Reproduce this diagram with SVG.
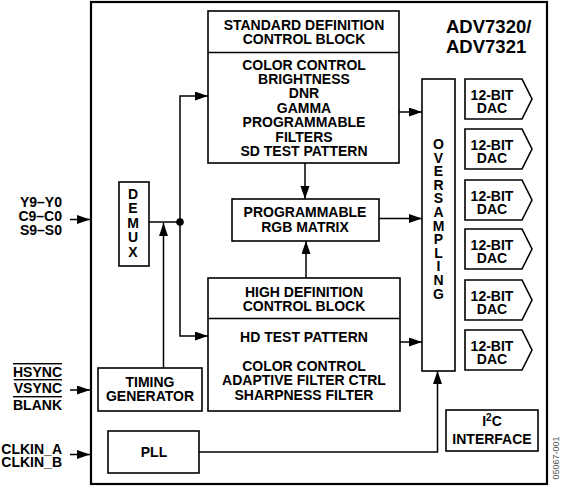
<svg xmlns="http://www.w3.org/2000/svg" width="561" height="486" viewBox="0 0 561 486">
<defs>
<style>
text{font-family:"Liberation Sans",Arial,sans-serif;font-weight:bold;font-size:14px;fill:#000;text-anchor:middle}
.box{fill:#fff;stroke:#000;stroke-width:1.6}
.ln{fill:none;stroke:#000;stroke-width:1.5}
.lbl{text-anchor:end}
.ol{text-decoration:overline}
.big{font-size:18.5px;text-anchor:start}
.id{font-weight:normal;font-size:9px;fill:#555}
</style>
<marker id="ah" markerUnits="userSpaceOnUse" markerWidth="14" markerHeight="10" refX="13" refY="4.5" orient="auto">
<path d="M0,0 L13,4.5 L0,9 Z" fill="#000"/>
</marker>
</defs>
<rect x="0" y="0" width="561" height="486" fill="#fff"/>
<rect id="chip" x="91" y="2" width="456" height="482" fill="none" stroke="#000" stroke-width="2.2"/>
<g id="title"><text class="big" x="446" y="33">ADV7320/</text><text class="big" x="446" y="53">ADV7321</text></g>

<g id="inputs-data"><text class="lbl" x="62" y="207">Y9–Y0</text><text class="lbl" x="62" y="221">C9–C0</text><text class="lbl" x="62" y="235">S9–S0</text></g>
<g id="inputs-sync"><text class="lbl ol" x="62" y="377">HSYNC</text><text class="lbl ol" x="62" y="393">VSYNC</text><text class="lbl ol" x="62" y="410">BLANK</text></g>
<g id="inputs-clk"><text class="lbl" x="62" y="454">CLKIN_A</text><text class="lbl" x="62" y="467">CLKIN_B</text></g>

<g id="demux"><rect class="box" x="119" y="182" width="30" height="84"/>
<text x="133" y="199">D</text><text x="133" y="213">E</text><text x="133" y="228">M</text><text x="133" y="242">U</text><text x="133" y="257">X</text></g>

<g id="timing"><rect class="box" x="98" y="368" width="104" height="43"/>
<text x="150" y="387">TIMING</text><text x="150" y="401">GENERATOR</text></g>

<g id="pll"><rect class="box" x="108" y="431" width="91" height="42"/><text x="154" y="457">PLL</text></g>

<g id="sd"><rect class="box" x="208" y="11" width="191" height="152"/><line class="ln" x1="208" y1="52.5" x2="399" y2="52.5"/>
<text x="304" y="30">STANDARD DEFINITION</text><text x="304" y="44">CONTROL BLOCK</text>
<text x="304" y="70">COLOR CONTROL</text><text x="304" y="84">BRIGHTNESS</text><text x="304" y="98">DNR</text><text x="304" y="112.5">GAMMA</text><text x="304" y="127">PROGRAMMABLE</text><text x="304" y="141.5">FILTERS</text><text x="304" y="156">SD TEST PATTERN</text></g>

<g id="rgb"><rect class="box" x="232" y="199" width="147" height="42"/>
<text x="305" y="217">PROGRAMMABLE</text><text x="305" y="232">RGB MATRIX</text></g>

<g id="hd"><rect class="box" x="208" y="278" width="192" height="133"/><line class="ln" x1="208" y1="318.5" x2="400" y2="318.5"/>
<text x="304" y="297">HIGH DEFINITION</text><text x="304" y="311">CONTROL BLOCK</text>
<text x="304" y="342">HD TEST PATTERN</text>
<text x="304" y="371">COLOR CONTROL</text><text x="304" y="385">ADAPTIVE FILTER CTRL</text><text x="304" y="399.5">SHARPNESS FILTER</text></g>

<g id="oversampling"><rect class="box" x="422" y="79" width="33" height="292"/>
<text x="438.5" y="149">O</text><text x="438.5" y="162.5">V</text><text x="438.5" y="176">E</text><text x="438.5" y="189.5">R</text><text x="438.5" y="203">S</text><text x="438.5" y="217">A</text><text x="438.5" y="230.5">M</text><text x="438.5" y="244">P</text><text x="438.5" y="257.5">L</text><text x="438.5" y="271">I</text><text x="438.5" y="285">N</text><text x="438.5" y="298.5">G</text></g>

<g id="dac1"><path class="box" d="M465,79 H522 L532,99 L522,119 H465 Z"/><text x="492" y="100">12-BIT</text><text x="492" y="113">DAC</text></g>
<g id="dac2"><path class="box" d="M465,129 H522 L532,149 L522,169 H465 Z"/><text x="492" y="150">12-BIT</text><text x="492" y="163">DAC</text></g>
<g id="dac3"><path class="box" d="M465,180 H522 L532,200 L522,220 H465 Z"/><text x="492" y="201">12-BIT</text><text x="492" y="214">DAC</text></g>
<g id="dac4"><path class="box" d="M465,229 H522 L532,249 L522,269 H465 Z"/><text x="492" y="250">12-BIT</text><text x="492" y="263">DAC</text></g>
<g id="dac5"><path class="box" d="M465,280 H522 L532,300 L522,320 H465 Z"/><text x="492" y="301">12-BIT</text><text x="492" y="314">DAC</text></g>
<g id="dac6"><path class="box" d="M465,330 H522 L532,350 L522,370 H465 Z"/><text x="492" y="351">12-BIT</text><text x="492" y="364">DAC</text></g>

<g id="i2c"><rect class="box" x="446" y="410" width="92" height="41"/>
<text x="492" y="426">I<tspan font-size="10" dy="-5">2</tspan><tspan dy="5">C</tspan></text><text x="492" y="443.5">INTERFACE</text></g>

<g id="connectors">
<line class="ln" x1="70" y1="219.5" x2="90" y2="219.5" marker-end="url(#ah)"/>
<line class="ln" x1="70" y1="390" x2="90" y2="390" marker-end="url(#ah)"/>
<line class="ln" x1="70" y1="454.5" x2="90" y2="454.5" marker-end="url(#ah)"/>
<line class="ln" x1="149" y1="222" x2="180" y2="222"/>
<polyline class="ln" points="180,222 180,96 208,96" marker-end="url(#ah)"/>
<polyline class="ln" points="180,222 180,336 208,336" marker-end="url(#ah)"/>
<circle cx="180" cy="222" r="3.8" fill="#000"/>
<line class="ln" x1="163.5" y1="368" x2="163.5" y2="223" marker-end="url(#ah)"/>
<line class="ln" x1="305" y1="163" x2="305" y2="199" marker-end="url(#ah)"/>
<line class="ln" x1="306" y1="278" x2="306" y2="241" marker-end="url(#ah)"/>
<line class="ln" x1="399" y1="112" x2="422" y2="112" marker-end="url(#ah)"/>
<line class="ln" x1="379" y1="218.5" x2="422" y2="218.5" marker-end="url(#ah)"/>
<line class="ln" x1="400" y1="342" x2="422" y2="342" marker-end="url(#ah)"/>
<polyline class="ln" points="199,452 437.5,452 437.5,371" marker-end="url(#ah)"/>
</g>
<text class="id" transform="translate(559,458) rotate(-90)">05067-001</text>
</svg>
